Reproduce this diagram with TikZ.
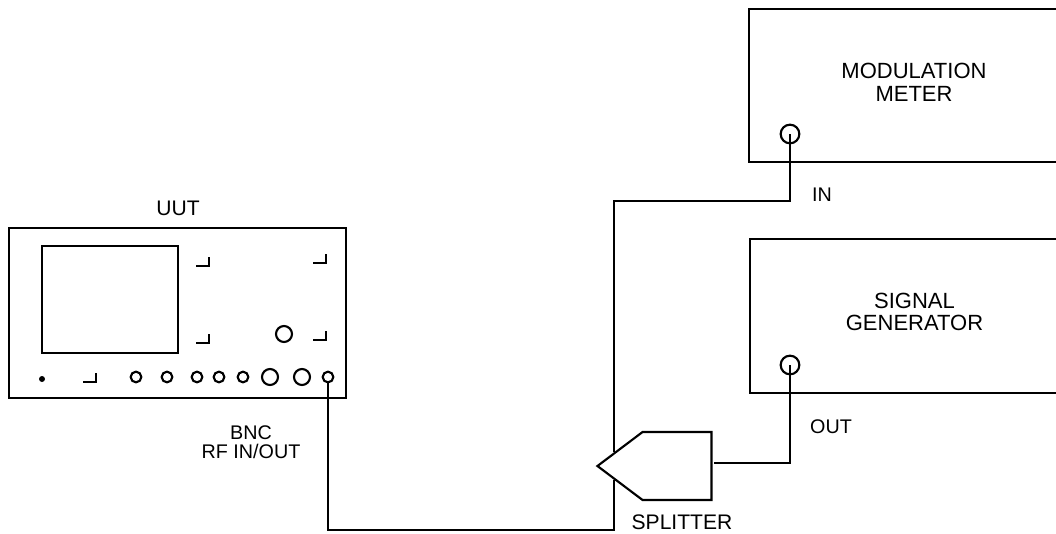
\documentclass[tikz,border=0pt]{standalone}
\usepackage{fontspec}
\setmainfont{Liberation Sans}
\usetikzlibrary{shapes.symbols}
\tikzset{
  unitbox/.style={draw=black, line width=1.6pt, line join=miter},
  wire/.style={draw=black, line width=1.6pt},
  panelmark/.style={draw=black, line width=1.5pt},
  label/.style={font=\fontsize{15.8}{18}\selectfont, align=center, inner sep=0pt},
  unitlabel/.style={font=\fontsize{16.5}{17}\selectfont, align=center, inner sep=0pt},
  smalllabel/.style={font=\fontsize{14.8}{14}\selectfont, align=center, inner sep=0pt},
  port/.style={circle, draw=black, line width=1.6pt, fill=white, minimum size=14pt, inner sep=0pt},
  knob/.style={circle, draw=black, line width=1.6pt, fill=white, minimum size=12pt, inner sep=0pt},
  jack/.style={circle, draw=black, line width=1.6pt, fill=white, minimum size=8pt, inner sep=0pt},
  splitshape/.style={signal, signal to=west, signal pointer angle=74, draw=black, line width=1.6pt,
                     fill=white, minimum width=85.5pt, minimum height=51pt, inner sep=0pt},
}
\begin{document}
\begin{tikzpicture}[x=0.75pt, y=-0.75pt]
  \useasboundingbox (0,0) rectangle (1056,533);

  % UUT front panel
  \draw[unitbox] (9,228) rectangle (346,398);
  \draw[unitbox] (42,246) rectangle (178,353);
  \foreach \cx/\cy in {209/257, 326/254, 209/334, 326/331, 96/373}
    \draw[panelmark] (\cx-13,\cy+9) -- (\cx,\cy+9) -- (\cx,\cy);
  \node[knob] (dial) at (284,334) {};
  \fill (42,379) circle (3);
  \foreach \cx in {136,167,197,219,243}
    \node[jack] (jack\cx) at (\cx,377) {};
  \foreach \cx in {270,302}
    \node[knob] (knob\cx) at (\cx,377) {};
  \node[jack] (uutport) at (328,377) {};

  % instruments run off the right edge
  \draw[unitbox] (1056,9) -- (749,9) -- (749,162) -- (1056,162);
  \draw[unitbox] (1056,239) -- (750,239) -- (750,393) -- (1056,393);
  \node[port] (meterport) at (790,134) {};
  \node[port] (genport) at (790,365) {};

  \node[splitshape] (splitter) at (677,466) {};

  \coordinate (cornerlow) at (614,530);
  \coordinate (splitlow) at (614,480);
  \coordinate (splitup) at (614,452);
  \coordinate (cornerup) at (614,201);
  \coordinate (splitout) at (714,463);

  \draw[wire] (uutport.south) |- (cornerlow) -- (splitlow);
  \draw[wire] (splitup) -- (cornerup) -| (meterport.center);
  \draw[wire] (splitout) -| (genport.center);

  \node[label] (uuttext) at (178,208) {UUT};
  \node[smalllabel] (bnctext) at (251,442) {BNC\\RF IN/OUT};
  \node[unitlabel] (metertext) at (914,82) {MODULATION\\METER};
  \node[unitlabel] (gentext) at (914.5,312) {SIGNAL\\GENERATOR};
  \node[smalllabel] (intext) at (822,195) {IN};
  \node[smalllabel] (outtext) at (831,427) {OUT};
  \node[label] (splittext) at (682,522) {SPLITTER};
\end{tikzpicture}
\end{document}
